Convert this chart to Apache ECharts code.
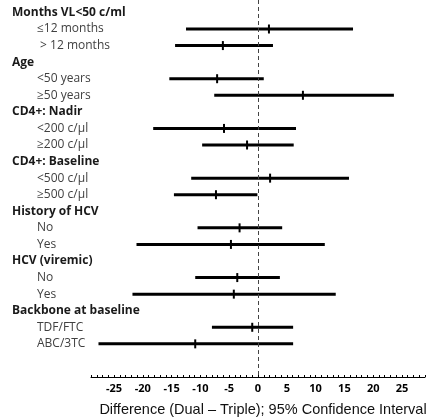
<!DOCTYPE html>
<html>
<head>
<meta charset="utf-8">
<script src="https://cdn.jsdelivr.net/npm/echarts@6/dist/echarts.min.js"></script>
<style>html,body{margin:0;padding:0;background:#fff;}#c{width:433px;height:417px;}</style>
</head>
<body>
<div id="c"></div>
<script>
const labels = ["Months VL<50 c/ml","≤12 months"," > 12 months","Age","<50 years","≥50 years","CD4+: Nadir","<200 c/μl","≥200 c/μl","CD4+: Baseline","<500 c/μl","≥500 c/μl","History of HCV","No","Yes","HCV (viremic)","No","Yes","Backbone at baseline","TDF/FTC","ABC/3TC"];
const isHeader = [1,0,0,1,0,0,1,0,0,1,0,0,1,0,0,1,0,0,1,0,0];
const lower = [null,-12.5,-14.4,null,-15.4,-7.6,null,-18.2,-9.7,null,-11.6,-14.6,null,-10.5,-21.1,null,-10.9,-21.8,null,-8.0,-27.7];
const upper = [null,16.5,2.6,null,1.0,23.6,null,6.6,6.2,null,15.8,-0.1,null,4.2,11.6,null,3.8,13.5,null,6.1,6.1];
const estimate = [null,1.9,-6.1,null,-7.1,7.8,null,-5.9,-1.9,null,2.1,-7.3,null,-3.2,-4.7,null,-3.6,-4.2,null,-1.0,-10.9];
const xTickLabels = [-25,-20,-15,-10,-5,0,5,10,15,20,25];

const data = [];
for (let i = 0; i < labels.length; i++) {
  if (lower[i] !== null) data.push([lower[i], upper[i], estimate[i], i]);
}

const chart = echarts.init(document.getElementById('c'));
chart.setOption({
  animation: false,
  grid: {left: 91, right: 8, top: 0, bottom: 40, outerBoundsMode: 'none', containLabel: false},
  xAxis: {
    type: 'value', min: -29, max: 29, interval: 1, position: 'bottom',
    axisLine: {show: true, onZero: false, lineStyle: {color: '#000', width: 1}},
    axisTick: {show: true, inside: true, length: 2, lineStyle: {color: '#000'}},
    splitLine: {show: false},
    axisLabel: {
      margin: 6,
      color: '#000', fontWeight: 'bold', fontSize: 11, fontFamily: 'Open Sans',
      formatter: v => xTickLabels.indexOf(v) >= 0 ? String(v) : ''
    },
    name: 'Difference (Dual – Triple); 95% Confidence Interval',
    nameLocation: 'middle', nameGap: 25,
    nameTextStyle: {color: '#111', fontSize: 14.5, fontFamily: 'Liberation Sans', padding: [0,0,0,10]}
  },
  yAxis: {
    type: 'value', inverse: true, min: -0.75, max: 22, interval: 0.25,
    axisLine: {show: false}, axisTick: {show: false}, splitLine: {show: false},
    axisLabel: {
      align: 'left', margin: 79,
      formatter: v => {
        if (Math.abs(v - Math.round(v)) > 1e-6) return '';
        const i = Math.round(v);
        if (i < 0 || i >= labels.length) return '';
        return isHeader[i] ? '{h|' + labels[i] + '}' : '{s|' + labels[i] + '}';
      },
      rich: {
        h: {fontFamily: 'Open Sans', fontWeight: 'bold', fontSize: 12, color: '#1a1a1a'},
        s: {fontFamily: 'Open Sans', fontSize: 12, color: '#404040', padding: [0,0,0,25]}
      }
    }
  },
  series: [{
    type: 'custom',
    data: data,
    renderItem: (params, api) => {
      const lo = api.coord([api.value(0), api.value(3)]);
      const hi = api.coord([api.value(1), api.value(3)]);
      const pt = api.coord([api.value(2), api.value(3)]);
      return {
        type: 'group',
        children: [
          {type: 'line', shape: {x1: lo[0], y1: lo[1], x2: hi[0], y2: hi[1]}, style: {stroke: '#000', lineWidth: 3}},
          {type: 'line', shape: {x1: pt[0], y1: pt[1] - 4.5, x2: pt[0], y2: pt[1] + 4.5}, style: {stroke: '#000', lineWidth: 2}}
        ]
      };
    },
    markLine: {
      silent: true, symbol: 'none', label: {show: false},
      lineStyle: {color: '#444', width: 1, type: [4, 3]},
      data: [{xAxis: 0}]
    }
  }]
});
</script>
</body>
</html>
